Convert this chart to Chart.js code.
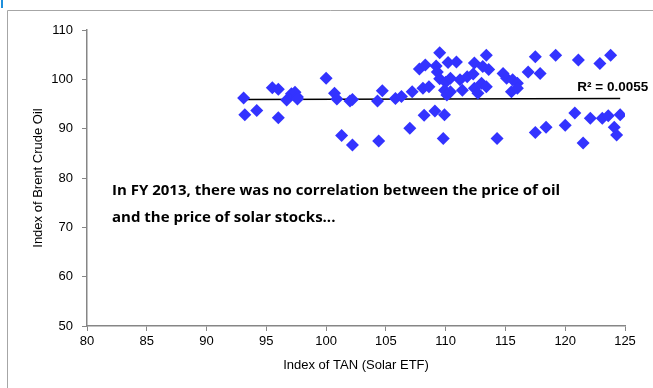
<!DOCTYPE html>
<html>
<head>
<meta charset="utf-8">
<script src="https://cdn.jsdelivr.net/npm/chart.js@4"></script>
<style>
  html, body { margin: 0; padding: 0; background: #fff; }
  #wrap { position: relative; width: 653px; height: 388px; }
  #corner { position: absolute; left: 1px; top: 0; width: 2px; height: 8px; background: #1e8fdc; }
</style>
</head>
<body>
<div id="wrap">
  <canvas id="scatter" width="653" height="388"></canvas>
  <div id="corner"></div>
</div>
<script>
// FY 2013 daily index values: TAN (x) vs Brent crude (y)
const tanIndex = [
  93.1, 93.2, 94.2, 95.5, 96.0, 96.0, 96.7, 97.1, 97.4, 97.6,
  97.6, 100.0, 100.7, 100.9, 102.0, 102.2, 101.3, 102.2, 104.4, 104.3,
  104.7, 105.8, 106.3, 107.2, 107.0, 108.1, 108.6, 107.8, 108.3, 109.2,
  109.5, 110.2, 110.9, 108.2, 109.1, 109.9, 109.8, 109.3, 109.5, 110.0,
  110.4, 111.2, 111.8, 112.3, 112.4, 109.9, 110.4, 111.4, 112.4, 110.1,
  113.0, 113.4, 112.7, 113.4, 113.6, 113.1, 114.8, 115.1, 115.6, 116.0,
  115.5, 116.0, 116.9, 117.9, 117.5, 119.2, 121.1, 122.9, 123.8, 120.8,
  120.0, 122.1, 123.1, 123.6, 124.6, 124.1, 124.3, 118.4, 117.5, 114.3,
  121.5
];
const brentIndex = [
  96.2, 92.8, 93.7, 98.3, 98.0, 92.2, 95.8, 97.1, 97.4, 96.4,
  96.0, 100.2, 97.2, 96.0, 95.6, 95.9, 88.6, 86.7, 87.5, 95.6,
  97.7, 96.1, 96.5, 97.5, 90.1, 98.2, 98.5, 102.1, 102.9, 102.7,
  105.4, 103.4, 103.5, 92.7, 93.6, 92.8, 88.0, 101.5, 100.1, 99.4,
  100.2, 99.9, 100.5, 101.1, 103.3, 97.8, 97.5, 97.8, 98.2, 96.8,
  99.2, 98.5, 97.2, 104.9, 102.0, 102.6, 101.2, 100.2, 99.9, 99.2,
  97.5, 98.2, 101.5, 101.2, 104.6, 104.9, 103.9, 103.2, 104.9, 93.2,
  90.7, 92.1, 92.1, 92.6, 92.8, 90.3, 88.7, 90.3, 89.2, 88.0,
  87.1
];

// linear trend line ends and its fit
const trendX = [93.1, 124.6];
const trendY = [95.9, 96.1];
const rSquared = '0.0055';

const noteLines = [
  'In FY 2013, there was no correlation between the price of oil',
  'and the price of solar stocks...'
];

const axisGrey = '#868686';
const labelFont = { family: '"Liberation Sans", Arial, sans-serif', size: 13 };

// frame, trend label and the note
const extras = {
  id: 'extras',
  beforeDraw(chart) {
    const ctx = chart.ctx;
    ctx.save();
    ctx.strokeStyle = '#a6a6a6';
    ctx.lineWidth = 1;
    ctx.beginPath();
    ctx.moveTo(7.5, 388);
    ctx.lineTo(7.5, 10.5);
    ctx.lineTo(653, 10.5);
    ctx.stroke();
    ctx.restore();
  },
  afterDraw(chart) {
    const ctx = chart.ctx;
    const area = chart.chartArea;
    const xs = chart.scales.x;
    const ys = chart.scales.y;
    ctx.save();
    ctx.fillStyle = '#000';
    ctx.font = 'bold 13.5px "Liberation Sans", Arial, sans-serif';
    ctx.textAlign = 'right';
    ctx.textBaseline = 'alphabetic';
    ctx.fillText('R\u00b2 = ' + rSquared, xs.getPixelForValue(trendX[1]) + 28, ys.getPixelForValue(trendY[1]) - 8);

    ctx.font = 'bold 15px "Open Sans", sans-serif';
    ctx.textAlign = 'left';
    ctx.textBaseline = 'middle';
    noteLines.forEach((t, i) => ctx.fillText(t, area.left + 25, area.top + 161 + i * 27));
    ctx.restore();
  }
};

const ctx = document.getElementById('scatter').getContext('2d');
new Chart(ctx, {
  type: 'scatter',
  data: {
    datasets: [
      {
        data: tanIndex.map((v, i) => ({ x: v, y: brentIndex[i] })),
        pointStyle: 'rectRot',
        pointRadius: 6.5,
        pointHoverRadius: 6.5,
        backgroundColor: '#3333ff',
        borderWidth: 0
      },
      {
        type: 'line',
        data: trendX.map((v, i) => ({ x: v, y: trendY[i] })),
        borderColor: '#000',
        borderWidth: 1.5,
        pointRadius: 0,
        fill: false
      }
    ]
  },
  options: {
    responsive: false,
    animation: false,
    events: [],
    layout: { padding: { left: 0, top: 30, right: 28, bottom: 0 } },
    plugins: { legend: { display: false }, tooltip: { enabled: false } },
    scales: {
      x: {
        type: 'linear',
        min: 80,
        max: 125,
        afterFit: s => { s.height = 62; },
        ticks: { stepSize: 5, color: '#000', font: labelFont, padding: 3, maxRotation: 0 },
        grid: { drawOnChartArea: false, drawTicks: true, tickLength: 5, color: axisGrey },
        border: { color: axisGrey, width: 1.5 },
        title: { display: true, text: 'Index of TAN (Solar ETF)', color: '#000', font: labelFont, padding: { top: 0, bottom: 15 } }
      },
      y: {
        min: 50,
        max: 110,
        afterFit: s => { s.width = 87; },
        ticks: { stepSize: 10, color: '#000', font: labelFont, padding: 9 },
        grid: { drawOnChartArea: false, drawTicks: true, tickLength: 5, color: axisGrey },
        border: { color: axisGrey, width: 1.5 },
        title: { display: true, text: 'Index of Brent Crude Oil', color: '#000', font: labelFont, padding: { top: 31, bottom: 0 } }
      }
    }
  },
  plugins: [extras]
});
</script>
</body>
</html>
